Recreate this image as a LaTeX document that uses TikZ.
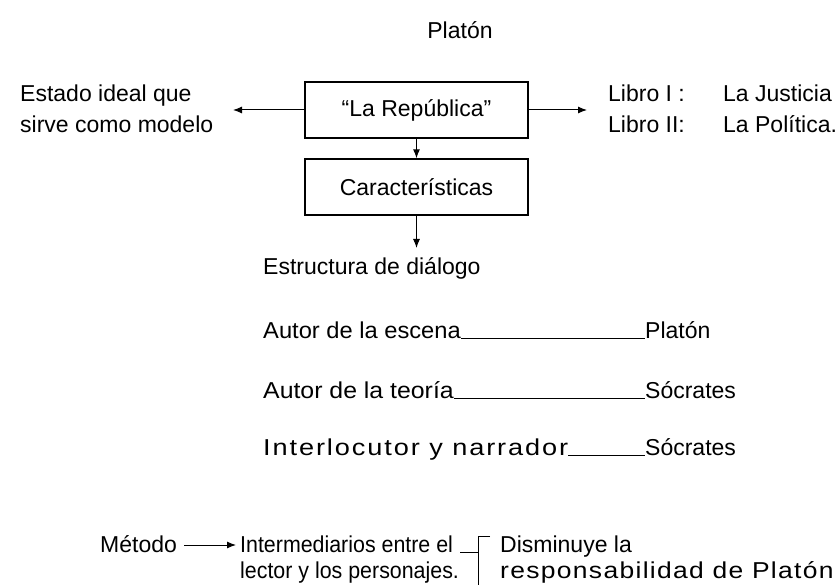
\documentclass[tikz,border=0pt]{standalone}
\usepackage{fontspec}
\setmainfont{Liberation Sans}
\usetikzlibrary{arrows.meta}
\newcommand{\fs}{\fontsize{23}{31}\selectfont}
\newcommand{\ls}[1]{\addfontfeatures{LetterSpace=#1}}
\newcommand{\hs}[2]{\scalebox{#1}[1]{#2}}
\begin{document}
\begin{tikzpicture}[x=1pt,y=-1pt,
  boxnode/.style={draw, line width=1.4pt, minimum width=223pt, minimum height=56pt, inner sep=0pt, font=\fs},
  txt/.style={anchor=base west, inner sep=0pt, font=\fs},
  ctxt/.style={inner sep=0pt, font=\fs},
  arr/.style={-{Latex[length=9pt,width=7pt]}, line width=1pt},
  rule/.style={line width=0.9pt}]
\useasboundingbox (0,0) rectangle (838,585);
\node[ctxt] (plt) at (460,30) {Platón};
\node[boxnode] (rep) at (416.5,110) {``La República''};
\node[boxnode] (car) at (416.5,187) {Características};
\node[txt] (est1) at (20,102) {Estado ideal que};
\node[txt] (est2) at (20,133) {sirve como modelo};
\node[txt] (lib1) at (608,102) {Libro I :};
\node[txt] (lib2) at (608,133) {Libro II:};
\node[txt] (libt1) at (723,102) {La Justicia};
\node[txt] (libt2) at (723,133) {La Política.};
\coordinate (estTip) at (233,110);
\coordinate (libTip) at (587,110);
\draw[arr] (rep.west) -- (estTip);
\draw[arr] (rep.east) -- (libTip);
\draw[arr] (rep.south) -- (car.north);
\coordinate (dlgTip) at (416.5,248);
\draw[arr] (car.south) -- (dlgTip);
\node[txt] (dlg) at (263,275) {Estructura de diálogo};
\node[txt] (r1) at (263,338) {\hs{1.03}{Autor de la escena}};
\node[txt] (r1b) at (645,338) {Platón};
\node[txt] (r2) at (263,398) {\hs{1.08}{Autor de la teoría}};
\node[txt] (r2b) at (645,398) {Sócrates};
\node[txt] (r3) at (263,455) {\hs{1.18}{\ls{7}Interlocutor y narrador}};
\node[txt] (r3b) at (645,455) {Sócrates};
\draw[rule] (r1.base east) -- (r1b.base west);
\draw[rule] (r2.base east) -- (r2b.base west);
\draw[rule] (r3.base east) -- (r3b.base west);
\node[txt] (met) at (100,552) {Método};
\coordinate (metStart) at (184,545);
\coordinate (metTip) at (236,545);
\draw[arr] (metStart) -- (metTip);
\node[txt] (int1) at (240,552) {\hs{0.93}{Intermediarios entre el}};
\node[txt] (int2) at (240,578) {\hs{0.93}{lector y los personajes.}};
\node[txt] (dis1) at (500,552) {Disminuye la};
\node[txt] (dis2) at (500,578) {\hs{1.15}{\ls{5}responsabilidad de Platón}};
\coordinate (bkTop) at (478,536);
\coordinate (bkBot) at (478,585);
\coordinate (bkHook) at (490,536);
\coordinate (bkStub) at (460,552);
\draw[rule] (bkHook) -- (bkTop) -- (bkBot);
\draw[rule] (bkStub) -- (bkTop |- bkStub);
\end{tikzpicture}
\end{document}
